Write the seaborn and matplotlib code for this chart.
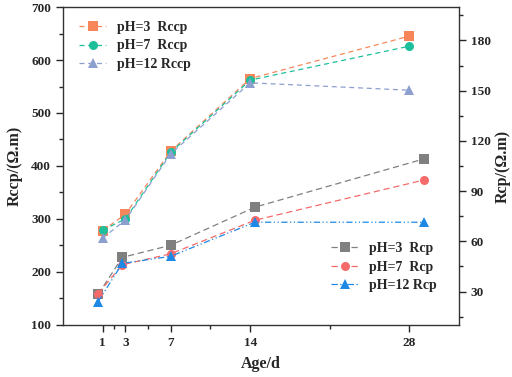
import matplotlib
matplotlib.use("Agg")
import matplotlib.pyplot as plt
import seaborn as sns
from matplotlib.ticker import MultipleLocator, FixedLocator

# ------------------------------------------------------------
# Data
# ------------------------------------------------------------
age = [1, 3, 7, 14, 28]
age_minor = [2, 5, 10.5, 21]

rccp_ph3 = [278, 309, 428, 565, 645]
rccp_ph7 = [279, 300, 426, 562, 626]
rccp_ph12 = [264, 298, 423, 557, 543]

rcp_ph3 = [28.3, 50.4, 57.6, 80.4, 109.2]
rcp_ph7 = [28.8, 46.0, 52.5, 72.6, 96.6]
rcp_ph12 = [24.0, 46.8, 51.0, 71.4, 71.4]

# ------------------------------------------------------------
# Style
# ------------------------------------------------------------
sns.set_style("ticks")
plt.rcParams["font.family"] = ["Liberation Serif", "DejaVu Serif"]
plt.rcParams["font.weight"] = "bold"
plt.rcParams["axes.labelweight"] = "bold"
plt.rcParams["axes.linewidth"] = 1.0
plt.rcParams["axes.edgecolor"] = "#333333"

fig = plt.figure(figsize=(5.12, 3.77), dpi=100)
pos = [0.123, 0.138, 0.7735, 0.8434]
ax = fig.add_axes(pos)
ax2 = fig.add_axes(pos, frameon=False)

# ------------------------------------------------------------
# Rccp (left axis)
# ------------------------------------------------------------
rccp_series = [
    (rccp_ph3, "#F7875A", "s", "pH=3  Rccp"),
    (rccp_ph7, "#1DBF9A", "o", "pH=7  Rccp"),
    (rccp_ph12, "#8C9FCF", "^", "pH=12 Rccp"),
]
for vals, col, mk, lab in rccp_series:
    sns.lineplot(x=age, y=vals, ax=ax, color=col, marker=mk, ls=(0, (4, 3)),
                 lw=0.9, markersize=6.5, markeredgecolor=col, markeredgewidth=0,
                 label=lab)

ax.set_xlim(-2.5, 32.4)
ax.set_ylim(100, 700)
ax.yaxis.set_major_locator(MultipleLocator(100))
ax.yaxis.set_minor_locator(MultipleLocator(50))
ax.xaxis.set_major_locator(FixedLocator(age))
ax.xaxis.set_minor_locator(FixedLocator(age_minor))
ax.set_xticklabels([str(a) for a in age])
ax.tick_params(axis="both", which="major", direction="out", length=5,
               width=1, labelsize=9.5)
ax.tick_params(axis="both", which="minor", direction="out", length=3, width=1)
ax.set_xlabel("Age/d", fontsize=11.5, labelpad=5)
ax.set_ylabel("Rccp/(\u03a9.m)", fontsize=11.5, labelpad=6)
ax.spines["right"].set_visible(True)
ax.spines["top"].set_visible(True)

leg1 = ax.legend(loc="upper left", bbox_to_anchor=(0.01, 0.995), frameon=False,
                 fontsize=10, handlelength=1.9, handletextpad=0.8,
                 labelspacing=0.38)

# ------------------------------------------------------------
# Rcp (right axis, second layer)
# ------------------------------------------------------------
rcp_series = [
    (rcp_ph3, "#808080", "s", (0, (5, 3)), "pH=3  Rcp"),
    (rcp_ph7, "#F56B6B", "o", (0, (5, 3)), "pH=7  Rcp"),
    (rcp_ph12, "#1E88E5", "^", (0, (5, 2, 1, 2, 1, 2)), "pH=12 Rcp"),
]
for vals, col, mk, dash, lab in rcp_series:
    sns.lineplot(x=age, y=vals, ax=ax2, color=col, marker=mk, ls=dash,
                 lw=0.9, markersize=6.5, markeredgecolor=col, markeredgewidth=0,
                 label=lab)

ax2.set_xlim(-1.92, 30.92)
ax2.set_ylim(10, 200)
ax2.xaxis.set_visible(False)
ax2.yaxis.tick_right()
ax2.yaxis.set_label_position("right")
ax2.yaxis.set_major_locator(FixedLocator([30, 60, 90, 120, 150, 180]))
ax2.yaxis.set_minor_locator(MultipleLocator(15))
ax2.tick_params(axis="y", which="major", direction="out", length=5,
                width=1, labelsize=9.5)
ax2.tick_params(axis="y", which="minor", direction="out", length=3, width=1)
ax2.set_ylabel("Rcp/(\u03a9.m)", fontsize=11.5, labelpad=3)

leg2 = ax2.legend(loc="lower right", bbox_to_anchor=(0.975, 0.065), frameon=False,
                  fontsize=10, handlelength=1.9, handletextpad=0.8,
                  labelspacing=0.38)

fig.savefig("out.png", dpi=100)
plt.close(fig)
